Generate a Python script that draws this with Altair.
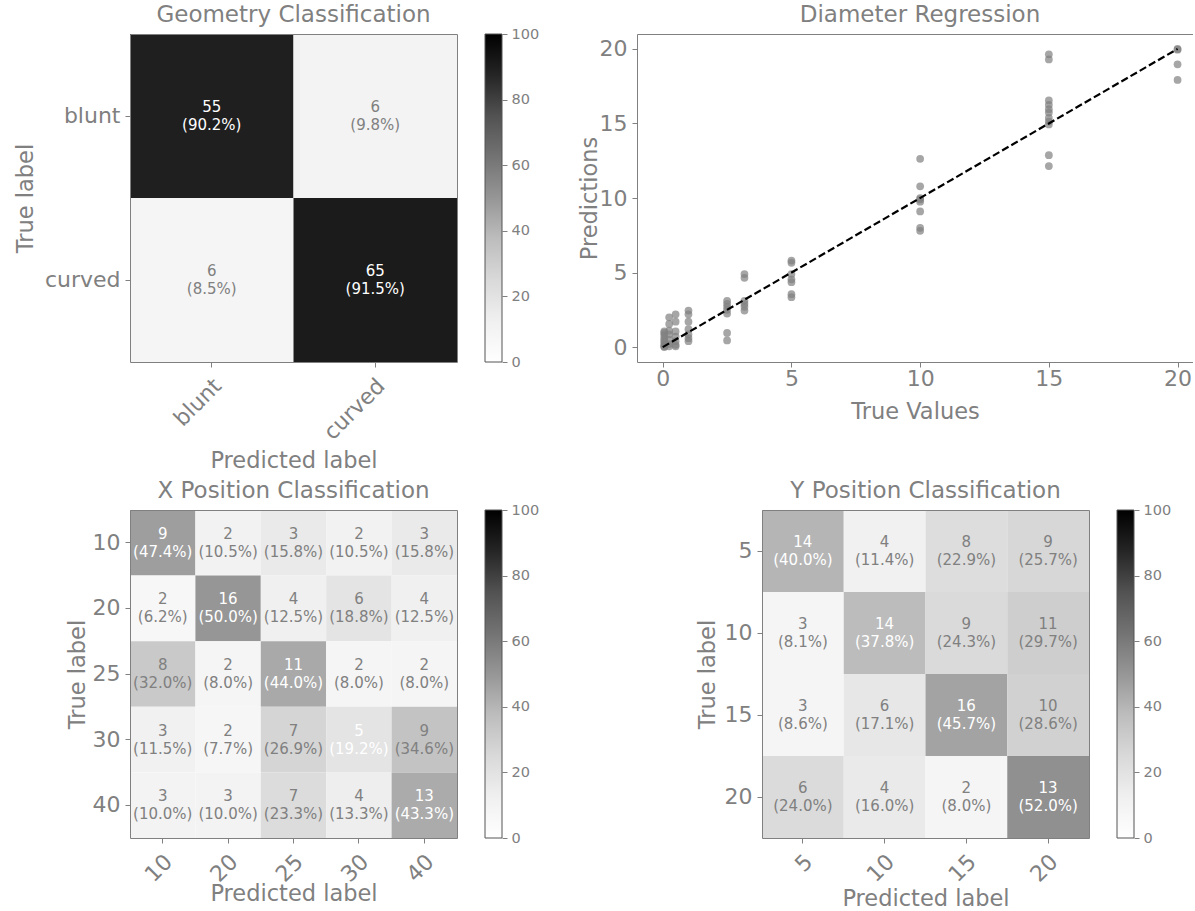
import altair as alt
import pandas as pd

FONT = "DejaVu Sans"
GRAY = "#808080"

# ---------------- data ----------------
GEO_LABELS = ["blunt", "curved"]
GEO_COUNTS = [[55, 6], [6, 65]]

XPOS_LABELS = ["10", "20", "25", "30", "40"]
XPOS_COUNTS = [
    [9, 2, 3, 2, 3],
    [2, 16, 4, 6, 4],
    [8, 2, 11, 2, 2],
    [3, 2, 7, 5, 9],
    [3, 3, 7, 4, 13],
]

YPOS_LABELS = ["5", "10", "15", "20"]
YPOS_COUNTS = [
    [14, 4, 8, 9],
    [3, 14, 9, 11],
    [3, 6, 16, 10],
    [6, 4, 2, 13],
]

REG_TRUE = (
    [0.06] * 9 + [0.25] * 7 + [0.5] * 7 + [1.0] * 7 + [2.5] * 7 + [3.175] * 6
    + [5.0] * 7 + [10.0] * 8 + [15.0] * 11 + [20.0] * 4
)
REG_PRED = (
    [1.05, 0.95, 0.8, 0.6, 0.45, 0.3, 0.15, 0.05, 0.0]
    + [2.0, 1.55, 1.1, 0.85, 0.5, 0.2, 0.05]
    + [2.2, 1.7, 1.05, 0.7, 0.4, 0.15, 0.05]
    + [2.45, 2.2, 1.7, 1.2, 0.85, 0.6, 0.4]
    + [3.1, 2.9, 2.7, 2.5, 2.25, 0.95, 0.45]
    + [4.9, 4.65, 3.1, 2.9, 2.7, 2.45]
    + [5.8, 5.65, 4.9, 4.55, 4.35, 3.55, 3.35]
    + [12.63, 10.78, 10.0, 9.9, 9.75, 9.1, 8.0, 7.8]
    + [19.64, 19.29, 16.54, 16.25, 15.96, 15.73, 15.37, 15.13, 14.93, 12.87, 12.14]
    + [20.0, 19.95, 18.97, 17.92]
)
IDENTITY = [0, 20]
REG_TICKS = [0, 5, 10, 15, 20]
COLORBAR_RANGE = [0, 100]
COLORBAR_TICKS = [0, 20, 40, 60, 80, 100]
GREYS_STOPS = [0, 12.5, 25, 37.5, 50, 62.5, 75, 87.5, 100]
GREYS = ["#ffffff", "#f0f0f0", "#d9d9d9", "#bdbdbd", "#969696",
         "#737373", "#525252", "#252525", "#000000"]

CELL = 327
PLOT_H = 328
CB_W = 17
GAP = 28


def cm_frame(labels, counts):
    rows = []
    for i, t in enumerate(labels):
        total = sum(counts[i])
        for j, p in enumerate(labels):
            pct = 100.0 * counts[i][j] / total
            rows.append(dict(true=t, pred=p, count=str(counts[i][j]), pct=pct,
                             pct_txt=f"({pct:.1f}%)", diag=int(i == j)))
    return pd.DataFrame(rows)


def heatmap(labels, counts, title, xtitle_y, ytitle_x):
    df = cm_frame(labels, counts)
    base = alt.Chart(df)
    x_main = alt.X("pred:N", sort=labels, title="Predicted label",
                   axis=alt.Axis(labelAngle=315, labelAlign="right", labelBaseline="middle",
                                 labelPadding=15, labelOffset=6, titleY=xtitle_y,
                                 titleBaseline="alphabetic", zindex=1))
    y_main = alt.Y("true:N", sort=labels, title="True label",
                   axis=alt.Axis(labelAngle=0, titleX=ytitle_x, titleBaseline="alphabetic",
                                 labelPadding=5, zindex=1))
    rect = base.mark_rect().encode(
        x=x_main, y=y_main,
        color=alt.Color("pct:Q", scale=alt.Scale(domain=GREYS_STOPS, range=GREYS),
                        legend=None),
    )
    txt_color = alt.condition("datum.diag == 1", alt.value("white"), alt.value(GRAY))
    count_txt = base.mark_text(fontSize=15, dy=-9, font=FONT).encode(
        x=alt.X("pred:N", sort=labels,
                axis=alt.Axis(orient="top", labels=False, ticks=False, title=None, zindex=1)),
        y=alt.Y("true:N", sort=labels,
                axis=alt.Axis(orient="right", labels=False, ticks=False, title=None, zindex=1)),
        text="count:N", color=txt_color,
    )
    pct_txt = base.mark_text(fontSize=15, dy=9, font=FONT).encode(
        x=alt.X("pred:N", sort=labels, axis=None),
        y=alt.Y("true:N", sort=labels, axis=None),
        text="pct_txt:N", color=txt_color,
    )
    return (
        alt.layer(rect, count_txt, pct_txt)
        .resolve_axis(x="independent", y="independent")
        .properties(width=CELL, height=PLOT_H, title=title)
    )


def colorbar():
    cb_df = pd.DataFrame({"lo": [COLORBAR_RANGE[0]], "hi": [COLORBAR_RANGE[1]]})
    grad = alt.LinearGradient(
        gradient="linear",
        stops=[alt.GradientStop(color=c, offset=s / 100.0) for s, c in zip(GREYS_STOPS, GREYS)],
        x1=0, x2=0, y1=1, y2=0,
    )
    return alt.Chart(cb_df).mark_rect(color=grad, stroke="#555555", strokeWidth=1).encode(
        y=alt.Y("lo:Q", scale=alt.Scale(domain=COLORBAR_RANGE, nice=False, zero=False),
                axis=alt.Axis(orient="right", values=COLORBAR_TICKS, title=None, domain=False,
                              labelFontSize=14.5, labelPadding=4, tickSize=5)),
        y2="hi:Q",
    ).properties(width=CB_W, height=PLOT_H)


def spacer(w):
    return alt.Chart(pd.DataFrame({"s": [0]})).mark_point(opacity=0).encode(
        x=alt.value(0), y=alt.value(0)
    ).properties(width=w, height=PLOT_H)


geo = heatmap(GEO_LABELS, GEO_COUNTS, "Geometry Classification", 105, -98)
xpos = heatmap(XPOS_LABELS, XPOS_COUNTS, "X Position Classification", 62, -46)
ypos = heatmap(YPOS_LABELS, YPOS_COUNTS, "Y Position Classification", 67, -48)

# ---------------- regression scatter ----------------
reg_df = pd.DataFrame({"true": REG_TRUE, "pred": REG_PRED})
line_df = pd.DataFrame({"x": IDENTITY, "y": IDENTITY})
xs = alt.Scale(domain=[-1, 20.6], nice=False, zero=False)
ys = alt.Scale(domain=[-1, 21], nice=False, zero=False)
y_axis = alt.Axis(values=REG_TICKS, labelPadding=5, titleX=-41, titleBaseline="alphabetic")

pts = alt.Chart(reg_df).mark_circle(size=60, color=GRAY, opacity=0.7).encode(
    x=alt.X("true:Q", scale=xs, title="True Values",
            axis=alt.Axis(values=REG_TICKS, labelPadding=1, titleY=56,
                          titleBaseline="alphabetic")),
    y=alt.Y("pred:Q", scale=ys, title="Predictions", axis=y_axis),
)
diag = alt.Chart(line_df).mark_line(color="black", strokeDash=[7.4, 3.2], strokeWidth=2.2).encode(
    x=alt.X("x:Q", scale=xs,
            axis=alt.Axis(orient="top", labels=False, ticks=False, title=None)),
    y=alt.Y("y:Q", scale=ys, title="Predictions", axis=y_axis),
)
scatter = (
    alt.layer(pts, diag)
    .resolve_axis(x="independent")
    .properties(width=556, height=PLOT_H,
                title=alt.TitleParams("Diameter Regression", dx=5))
)

# geo(327) + gap + cb(17) + gap + spacer + gap -> scatter starts 507px after geo
top_row = alt.hconcat(
    geo, colorbar(), spacer(507 - CELL - CB_W - 3 * GAP), scatter,
    spacing=GAP, bounds="flush",
).resolve_scale(color="independent")
# xpos(327) + gap + cb + gap + spacer + gap -> ypos starts 632px after xpos
bottom_row = alt.hconcat(
    xpos, colorbar(), spacer(632 - CELL - CB_W - 3 * GAP), ypos, colorbar(),
    spacing=GAP, bounds="flush",
).resolve_scale(color="independent")

chart = alt.vconcat(
    top_row, bottom_row, spacing=8,
).resolve_scale(
    color="independent"
).properties(
    padding={"left": 14, "top": 4, "right": 0, "bottom": 0},
    background="white",
).configure_view(
    stroke=None
).configure_axis(
    labelFont=FONT, titleFont=FONT, labelColor=GRAY, titleColor=GRAY,
    tickColor=GRAY, domainColor=GRAY, labelFontSize=22, titleFontSize=22.5,
    titleFontWeight="normal", tickSize=5, grid=False,
).configure_title(
    font=FONT, fontSize=23, color=GRAY, fontWeight="normal", anchor="middle",
    frame="group", offset=7, baseline="alphabetic",
)

chart.save("out.html", embed_options={"renderer": "svg", "actions": False})
